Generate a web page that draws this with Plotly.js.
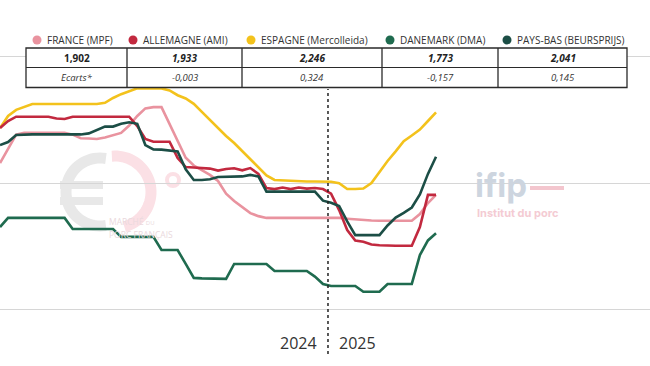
<!DOCTYPE html>
<html>
<head>
<meta charset="utf-8">
<script src="https://cdn.plot.ly/plotly-3.0.1.min.js"></script>
<style>
html,body{margin:0;padding:0;background:#fff;}
#chart{width:650px;height:366px;}
</style>
</head>
<body>
<div id="chart"></div>
<script>
// ---------- DATA ----------
const weeks = ["2024-S12","2024-S13","2024-S14","2024-S15","2024-S16","2024-S17","2024-S18","2024-S19","2024-S20","2024-S21",
  "2024-S22","2024-S23","2024-S24","2024-S25","2024-S26","2024-S27","2024-S28","2024-S29","2024-S30","2024-S31",
  "2024-S32","2024-S33","2024-S34","2024-S35","2024-S36","2024-S37","2024-S38","2024-S39","2024-S40","2024-S41",
  "2024-S42","2024-S43","2024-S44","2024-S45","2024-S46","2024-S47","2024-S48","2024-S49","2024-S50","2024-S51",
  "2024-S52","2025-S01","2025-S02","2025-S03","2025-S04","2025-S05","2025-S06","2025-S07","2025-S08","2025-S09",
  "2025-S10","2025-S11","2025-S12","2025-S13","2025-S14"];

const france = [2.079, 2.138, 2.191, 2.198, 2.198, 2.198, 2.198, 2.198, 2.198, 2.191,
  2.177, 2.176, 2.174, 2.180, 2.188, 2.198, 2.227, 2.265, 2.295, 2.300,
  2.300, 2.233, 2.166, 2.100, 2.069, 2.049, 2.032, 2.008, 1.958, 1.929,
  1.904, 1.881, 1.869, 1.862, 1.862, 1.862, 1.862, 1.862, 1.862, 1.862,
  1.862, 1.862, 1.862, 1.859, 1.856, 1.853, 1.852, 1.851, 1.851, 1.851,
  1.851, 1.851, 1.877, 1.921, 1.953];

const allemagne = [2.217, 2.245, 2.262, 2.262, 2.262, 2.262, 2.262, 2.255, 2.253, 2.262,
  2.262, 2.262, 2.262, 2.262, 2.262, 2.262, 2.262, 2.225, 2.174, 2.163,
  2.163, 2.163, 2.099, 2.063, 2.061, 2.059, 2.057, 2.049, 2.055, 2.058,
  2.050, 2.059, 2.036, 1.980, 1.976, 1.982, 1.976, 1.982, 1.978, 1.980,
  1.976, 1.958, 1.893, 1.814, 1.773, 1.768, 1.757, 1.754, 1.752, 1.752,
  1.752, 1.752, 1.826, 1.953, 1.953];

const espagne = [2.217, 2.265, 2.289, 2.302, 2.312, 2.312, 2.312, 2.312, 2.312, 2.312,
  2.312, 2.312, 2.312, 2.317, 2.336, 2.351, 2.364, 2.374, 2.374, 2.374,
  2.374, 2.366, 2.347, 2.334, 2.313, 2.281, 2.249, 2.217, 2.186, 2.158,
  2.126, 2.094, 2.062, 2.030, 2.012, 2.010, 2.008, 2.008, 2.006, 2.006,
  2.005, 2.005, 1.999, 1.976, 1.976, 1.978, 2.000, 2.043, 2.087, 2.125,
  2.165, 2.188, 2.211, 2.245, 2.279];

const danemark = [1.826, 1.862, 1.862, 1.862, 1.862, 1.862, 1.862, 1.862, 1.862, 1.818,
  1.818, 1.818, 1.818, 1.818, 1.818, 1.787, 1.787, 1.787, 1.787, 1.787,
  1.735, 1.735, 1.735, 1.680, 1.625, 1.623, 1.623, 1.623, 1.621, 1.680,
  1.680, 1.680, 1.680, 1.680, 1.652, 1.652, 1.652, 1.652, 1.652, 1.630,
  1.601, 1.593, 1.593, 1.593, 1.593, 1.570, 1.570, 1.570, 1.601, 1.601,
  1.601, 1.601, 1.715, 1.773, 1.801];

const paysBas = [2.150, 2.162, 2.190, 2.192, 2.192, 2.192, 2.192, 2.192, 2.192, 2.192,
  2.192, 2.196, 2.209, 2.223, 2.223, 2.234, 2.240, 2.234, 2.150, 2.133,
  2.132, 2.130, 2.125, 2.054, 2.012, 2.012, 2.015, 2.024, 2.024, 2.025,
  2.026, 2.032, 2.026, 1.966, 1.966, 1.966, 1.966, 1.966, 1.966, 1.966,
  1.930, 1.922, 1.909, 1.848, 1.794, 1.794, 1.794, 1.794, 1.832, 1.863,
  1.882, 1.903, 1.955, 2.036, 2.104];

const seriesNames = ["FRANCE (MPF)", "ALLEMAGNE (AMI)", "ESPAGNE (Mercolleida)", "DANEMARK (DMA)", "PAYS-BAS (BEURSPRIJS)"];
const latestValues = ["1,902", "1,933", "2,246", "1,773", "2,041"];
const ecartsLabel = "Ecarts*";
const ecarts = ["-0,003", "0,324", "-0,157", "0,145"];
const yearLabels = ["2024", "2025"];
const yearBoundary = 40.62; // position between 2024-S52 and 2025-S01

// ---------- STYLE ----------
const colors = ["#e9939f", "#c2293f", "#f3c21c", "#1f6b4f", "#1c4e46"];
const W = 650, H = 366;
const px = x => x / W;
const py = y => 1 - y / H;
const FONT = "Open Sans, Noto Sans, sans-serif";

const seriesData = [france, allemagne, espagne, danemark, paysBas];
const drawOrder = [0, 2, 1, 3, 4];
const traces = drawOrder.map(k => ({
  type: "scatter", mode: "lines", x: weeks, y: seriesData[k], name: seriesNames[k],
  line: { color: colors[k], width: 2.6 }, hoverinfo: "skip"
}));

// ---------- LAYOUT DECORATION ----------
const shapes = [];
const annotations = [];

function arcPath(cx, cy, r, a0, a1, n) {
  let d = "";
  for (let i = 0; i <= n; i++) {
    const a = (a0 + (a1 - a0) * i / n) * Math.PI / 180;
    const x = cx + r * Math.cos(a), y = cy - r * Math.sin(a);
    d += (i === 0 ? "M " : " L ") + px(x).toFixed(5) + "," + py(y).toFixed(5);
  }
  return d;
}

// watermark: marché du porc français logo
shapes.push({ type: "path", xref: "paper", yref: "paper", layer: "below",
  path: arcPath(100, 192, 34, 80, 280, 40), line: { color: "#e8e8e8", width: 11 } });
shapes.push({ type: "rect", xref: "paper", yref: "paper", layer: "below",
  x0: px(60), x1: px(103), y0: py(189), y1: py(181), line: { width: 0 }, fillcolor: "#e8e8e8" });
shapes.push({ type: "rect", xref: "paper", yref: "paper", layer: "below",
  x0: px(60), x1: px(103), y0: py(205), y1: py(197), line: { width: 0 }, fillcolor: "#e8e8e8" });
shapes.push({ type: "path", xref: "paper", yref: "paper", layer: "below",
  path: arcPath(115, 192, 36, 95, -75, 40), line: { color: "#fbe0e5", width: 11 } });
shapes.push({ type: "circle", xref: "paper", yref: "paper", layer: "below",
  x0: px(167), x1: px(179), y0: py(186), y1: py(174), line: { color: "#fbe0e5", width: 4 } });
annotations.push({ xref: "paper", yref: "paper", x: px(107), y: py(221), xanchor: "left", yanchor: "middle",
  text: "MARCHÉ <span style='font-size:6px'>DU</span>", showarrow: false, font: { family: FONT, size: 8.5, color: "#ead9dd" } });
annotations.push({ xref: "paper", yref: "paper", x: px(107), y: py(234), xanchor: "left", yanchor: "middle",
  text: "PORC FRANÇAIS", showarrow: false, font: { family: FONT, size: 8.5, color: "#ead9dd" } });

// watermark: ifip
annotations.push({ xref: "paper", yref: "paper", x: px(473), y: py(185), xanchor: "left", yanchor: "middle",
  text: "<b>ifip</b>", showarrow: false, font: { family: "Inter, sans-serif", size: 33, color: "#cdd5df" } });
shapes.push({ type: "rect", xref: "paper", yref: "paper", layer: "below",
  x0: px(530), x1: px(564), y0: py(190), y1: py(186), line: { width: 0 }, fillcolor: "#f3c6ce" });
annotations.push({ xref: "paper", yref: "paper", x: px(475), y: py(213), xanchor: "left", yanchor: "middle",
  text: "<b>Institut du porc</b>", showarrow: false, font: { family: "Inter, sans-serif", size: 11, color: "#f4cbd3" } });

// year boundary (dotted)
shapes.push({ type: "line", xref: "x", yref: "paper", x0: yearBoundary, x1: yearBoundary,
  y0: py(354), y1: py(89), line: { color: "#222", width: 1.5, dash: "dot" } });
annotations.push({ xref: "x", yref: "paper", x: yearBoundary, xshift: -9, y: py(343), xanchor: "right", yanchor: "middle",
  text: yearLabels[0], showarrow: false, font: { family: FONT, size: 16, color: "#333" } });
annotations.push({ xref: "x", yref: "paper", x: yearBoundary, xshift: 9, y: py(343), xanchor: "left", yanchor: "middle",
  text: yearLabels[1], showarrow: false, font: { family: FONT, size: 16, color: "#333" } });

// legend row
const legendDotX = [37, 133, 251, 390, 507];
seriesNames.forEach((name, k) => {
  const cx = legendDotX[k], cy = 40;
  shapes.push({ type: "circle", xref: "paper", yref: "paper",
    x0: px(cx - 4.5), x1: px(cx + 4.5), y0: py(cy + 4.5), y1: py(cy - 4.5),
    line: { width: 0 }, fillcolor: colors[k] });
  annotations.push({ xref: "paper", yref: "paper", x: px(cx + 8), y: py(cy), xanchor: "left", yanchor: "middle",
    text: name, showarrow: false, font: { family: FONT, size: 10, color: "#333" } });
});

// table
const colEdges = [26, 127, 242, 382, 498, 627];
const tTop = 48, tMid = 67.5, tBot = 87.5;
shapes.push({ type: "rect", xref: "paper", yref: "paper", layer: "above",
  x0: px(colEdges[0]), x1: px(colEdges[5]), y0: py(tBot), y1: py(tTop),
  line: { color: "#2a2a2a", width: 1.3 }, fillcolor: "#ffffff" });
shapes.push({ type: "line", xref: "paper", yref: "paper",
  x0: px(colEdges[0]), x1: px(colEdges[5]), y0: py(tMid), y1: py(tMid), line: { color: "#2a2a2a", width: 1 } });
for (let c = 1; c < 5; c++) {
  shapes.push({ type: "line", xref: "paper", yref: "paper",
    x0: px(colEdges[c]), x1: px(colEdges[c]), y0: py(tBot), y1: py(tTop), line: { color: "#2a2a2a", width: 1.3 } });
}
latestValues.forEach((v, k) => {
  const cx = (colEdges[k] + colEdges[k + 1]) / 2;
  annotations.push({ xref: "paper", yref: "paper", x: px(cx), y: py((tTop + tMid) / 2), xanchor: "center", yanchor: "middle",
    text: k === 0 ? "<b>" + v + "</b>" : "<b><i>" + v + "</i></b>", showarrow: false,
    font: { family: FONT, size: 10, color: "#222" } });
});
[ecartsLabel].concat(ecarts).forEach((v, k) => {
  const cx = (colEdges[k] + colEdges[k + 1]) / 2;
  annotations.push({ xref: "paper", yref: "paper", x: px(cx), y: py((tMid + tBot) / 2), xanchor: "center", yanchor: "middle",
    text: "<i>" + v + "</i>", showarrow: false, font: { family: FONT, size: 9.5, color: "#333" } });
});

const layout = {
  width: W, height: H,
  margin: { l: 0, r: 0, t: 0, b: 0, pad: 0 },
  paper_bgcolor: "#ffffff", plot_bgcolor: "#ffffff",
  showlegend: false,
  font: { family: FONT },
  xaxis: { type: "category", range: [0, 80.5], showgrid: false, zeroline: false,
    showticklabels: false, ticks: "", showline: false, fixedrange: true },
  yaxis: { range: [1.2767, 2.7233], tickvals: [1.5, 2.0, 2.5], showticklabels: false, ticks: "",
    gridcolor: "#d6d6d6", gridwidth: 1, zeroline: false, showline: false, fixedrange: true },
  shapes: shapes,
  annotations: annotations
};

Plotly.newPlot("chart", traces, layout, { staticPlot: true, displayModeBar: false });
</script>
</body>
</html>
